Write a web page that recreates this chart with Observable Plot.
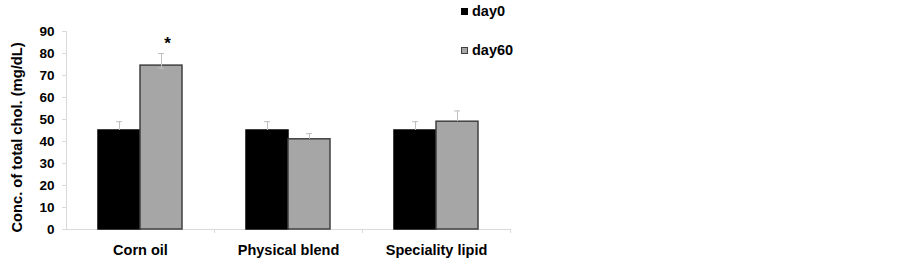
<!DOCTYPE html>
<html>
<head>
<meta charset="utf-8">
<script src="https://cdn.jsdelivr.net/npm/d3@7"></script>
<script src="https://cdn.jsdelivr.net/npm/@observablehq/plot@0.6"></script>
<style>
  html, body { margin: 0; padding: 0; background: #fff; }
  #wrap { position: relative; width: 902px; height: 264px; font-family: "Liberation Sans", Arial, sans-serif; }
  #legend { position: absolute; left: 461px; top: 3px; font-weight: bold; font-size: 14.5px; color: #000; }
  .item { display: flex; align-items: center; height: 16px; }
  .item + .item { margin-top: 23px; }
  .sw { width: 7px; height: 7px; margin-right: 4px; box-sizing: border-box; }
</style>
</head>
<body>
<div id="wrap"><div id="legend"></div></div>
<script>
const categories = ["Corn oil", "Physical blend", "Speciality lipid"];
const series = ["day0", "day60"];
const day0 = [45, 45, 45];
const day60 = [74.5, 41, 49];
const err0Up = [4, 4, 4];
const err60Up = [5.5, 2.6, 4.9];
const err60Down = [1.2, 0, 0];
const sig60 = ["*", "", ""];
const yTicks = [0, 10, 20, 30, 40, 50, 60, 70, 80, 90];
const yLabel = "Conc. of total chol. (mg/dL)";

const colors = {day0: "#000000", day60: "#a6a6a6"};
const strokes = {day0: "#000000", day60: "#404040"};

const rows = [];
categories.forEach((c, i) => {
  rows.push({category: c, series: "day0", value: day0[i], up: err0Up[i], down: 0, sig: ""});
  rows.push({category: c, series: "day60", value: day60[i], up: err60Up[i], down: err60Down[i], sig: sig60[i]});
});

const width = 902, height = 264;
const marginLeft = 66, marginRight = 392, marginTop = 31, marginBottom = 35;
const step = (width - marginLeft - marginRight) / categories.length;

const chart = Plot.plot({
  width, height, marginLeft, marginRight, marginTop, marginBottom,
  style: {fontFamily: "'Liberation Sans', Arial, sans-serif", fontWeight: "bold", background: "#fff"},
  fx: {domain: categories, padding: 0, label: null, axis: null},
  x: {domain: series, paddingInner: 0, paddingOuter: 0.741, axis: null},
  y: {domain: [0, 90], axis: null},
  marks: [
    Plot.frame({anchor: "left", facetAnchor: "left", stroke: "#d9d9d9"}),
    Plot.ruleY([0], {stroke: "#d9d9d9"}),
    Plot.axisY({ticks: yTicks, tickSize: 4, tickPadding: 8, stroke: "#d9d9d9", fontSize: 13.5, fill: "#000", label: null}),
    Plot.text([yLabel], {frameAnchor: "left", facetAnchor: "left", rotate: -90, dx: -49, dy: 7,
      fontSize: 14.7, fontWeight: "bold", fill: "#000", textAnchor: "middle", lineAnchor: "middle"}),
    Plot.axisFx({anchor: "bottom", tickSize: 4, tickFormat: () => "", stroke: "#d9d9d9", dx: step / 2, label: null}),
    Plot.axisFx({anchor: "bottom", tickSize: 0, tickPadding: 15, fontSize: 14.5, fill: "#000", label: null}),
    Plot.barY(rows, {fx: "category", x: "series", y: "value",
      fill: d => colors[d.series], stroke: d => strokes[d.series], strokeWidth: 1.5}),
    Plot.ruleX(rows, {fx: "category", x: "series", y1: d => d.value - d.down, y2: d => d.value + d.up, stroke: "#bfbfbf"}),
    Plot.tickY(rows, {fx: "category", x: "series", y: d => d.value + d.up, stroke: "#bfbfbf", insetLeft: 18, insetRight: 18}),
    Plot.tickY(rows.filter(d => d.down > 0), {fx: "category", x: "series", y: d => d.value - d.down, stroke: "#bfbfbf", insetLeft: 18, insetRight: 18}),
    Plot.text(rows.filter(d => d.sig), {fx: "category", x: "series", y: d => d.value + d.up, text: "sig",
      dy: -10, dx: 6, fontSize: 17, fontWeight: "bold", fill: "#000"})
  ]
});
document.getElementById("wrap").prepend(chart);

const legend = document.getElementById("legend");
series.forEach(s => {
  const item = document.createElement("div");
  item.className = "item";
  const sw = document.createElement("div");
  sw.className = "sw";
  sw.style.background = colors[s];
  sw.style.border = "1px solid " + strokes[s];
  const t = document.createElement("span");
  t.textContent = s;
  item.append(sw, t);
  legend.append(item);
});
</script>
</body>
</html>
